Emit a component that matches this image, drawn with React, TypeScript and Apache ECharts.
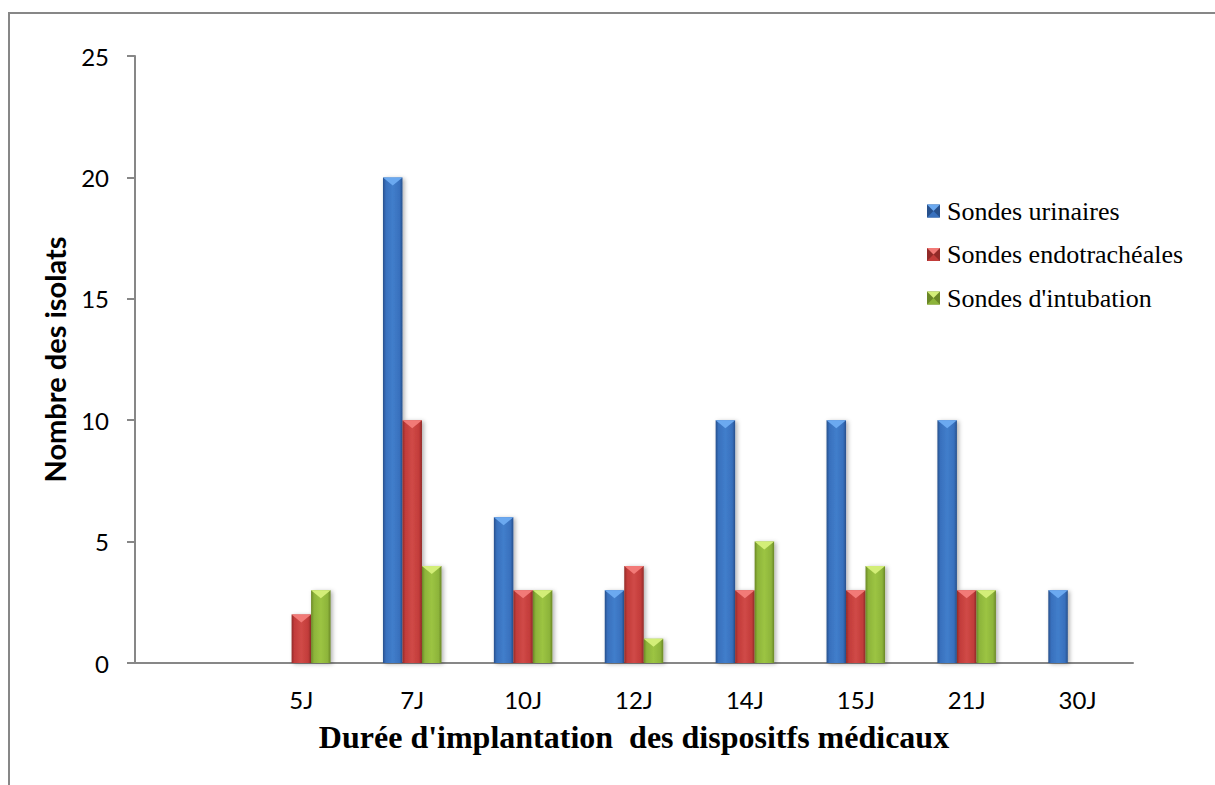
import React, { useEffect, useRef } from "react";
import * as echarts from "echarts";

// Implantation durations (first slot left blank on purpose)
const categories = ["", "5J", "7J", "10J", "12J", "14J", "15J", "21J", "30J"];
const urinaires = [0, 0, 20, 6, 3, 10, 10, 10, 3];
const endotracheales = [0, 2, 10, 3, 4, 3, 3, 3, 0];
const intubation = [0, 3, 4, 3, 1, 5, 4, 3, 0];
const seriesNames = ["Sondes urinaires", "Sondes endotrachéales", "Sondes d'intubation"];
const yMin = 0;
const yMax = 25;
const yStep = 5;

const xTitle = "Durée d'implantation  des dispositfs médicaux";
const yTitle = "Nombre des isolats";

// Bevelled look: dark edges, lighter body, light cap on top
const palettes = [
  { edge: "#27508c", body: "#3870bd", mid: "#417ecb", cap: "#6ba9f0" },
  { edge: "#922a28", body: "#c23c3a", mid: "#d04a47", cap: "#f27a77" },
  { edge: "#6a8726", body: "#8db43a", mid: "#9cc443", cap: "#d3ee78" },
];

const seriesValues = [urinaires, endotracheales, intubation];

const BAR_W = 19.5;
const AXIS_GREY = "#878787";
const SANS = "Lato";
const SERIF = "'Liberation Serif', 'Times New Roman', serif";

// Key block on the right
const KEY_LEFT = 927;
const KEY_TOP = 211;
const KEY_STEP = 43.5;
const KEY_BOX = 13;

function bodyGradient(p: { edge: string; body: string; mid: string }) {
  return new echarts.graphic.LinearGradient(0, 0, 1, 0, [
    { offset: 0, color: p.edge },
    { offset: 0.15, color: p.body },
    { offset: 0.5, color: p.mid },
    { offset: 0.85, color: p.body },
    { offset: 1, color: p.edge },
  ]);
}

function keyItem(i: number) {
  const p = palettes[i];
  const cy = KEY_TOP + i * KEY_STEP;
  const x0 = KEY_LEFT;
  const y0 = cy - KEY_BOX / 2;
  const s = KEY_BOX;
  return {
    type: "group",
    silent: true,
    children: [
      { type: "rect", shape: { x: x0, y: y0, width: s, height: s }, style: { fill: p.edge } },
      {
        type: "polygon",
        shape: { points: [[x0, y0], [x0 + s, y0], [x0 + s / 2, y0 + s / 2]] },
        style: { fill: p.cap },
      },
      {
        type: "polygon",
        shape: { points: [[x0, y0 + s], [x0 + s, y0 + s], [x0 + s / 2, y0 + s / 2]] },
        style: { fill: p.body },
      },
      {
        type: "text",
        x: x0 + s + 7,
        y: cy,
        style: {
          text: seriesNames[i],
          fontFamily: SERIF,
          fontSize: 26,
          fill: "#000",
          verticalAlign: "middle",
          align: "left",
        },
      },
    ],
  };
}

export default function App() {
  const ref = useRef<HTMLDivElement>(null);

  useEffect(() => {
    document.body.style.margin = "0";
    if (!ref.current) return;
    const chart = echarts.init(ref.current, undefined, { renderer: "svg" });

    const gap = (v: number) => (v === 0 ? "-" : v);

    const bars = seriesValues.map((vals, i) => ({
      type: "bar",
      name: seriesNames[i],
      data: vals.map(gap),
      barWidth: BAR_W,
      barGap: "0%",
      z: 2,
      itemStyle: {
        color: bodyGradient(palettes[i]),
        shadowBlur: 4,
        shadowOffsetX: 2,
        shadowOffsetY: 1,
        shadowColor: "rgba(0,0,0,0.3)",
      },
    }));

    const caps = seriesValues.map((vals, i) => ({
      type: "pictorialBar",
      name: seriesNames[i] + " cap",
      data: vals.map(gap),
      barWidth: BAR_W,
      barGap: "0%",
      symbol: "path://M0,0L20,0L10,8Z",
      symbolSize: [BAR_W, 8],
      symbolPosition: "end",
      z: 3,
      silent: true,
      itemStyle: { color: palettes[i].cap },
    }));

    chart.setOption({
      animation: false,
      graphic: [
        {
          type: "rect",
          silent: true,
          z: -10,
          shape: { x: 9, y: 13, width: 1400, height: 1000 },
          style: { fill: "none", stroke: AXIS_GREY, lineWidth: 2 },
        },
        ...seriesNames.map((_, i) => keyItem(i)),
      ],
      grid: { left: 135, right: 82, top: 56, bottom: 122 },
      xAxis: {
        type: "category",
        data: categories,
        name: xTitle,
        nameLocation: "middle",
        nameGap: 58,
        nameTextStyle: { fontFamily: SERIF, fontSize: 32, fontWeight: "bold", color: "#000" },
        axisLine: { lineStyle: { color: AXIS_GREY, width: 2 } },
        axisTick: { show: false },
        axisLabel: { fontFamily: SANS, fontSize: 24, color: "#000", margin: 24 },
        splitLine: { show: false },
      },
      yAxis: {
        type: "value",
        min: yMin,
        max: yMax,
        interval: yStep,
        name: yTitle,
        nameLocation: "middle",
        nameRotate: 90,
        nameGap: 66,
        nameTextStyle: { fontFamily: SANS, fontSize: 29, fontWeight: "bold", color: "#000" },
        axisLine: { show: true, lineStyle: { color: AXIS_GREY, width: 2 } },
        axisTick: { show: true, inside: false, length: 8, lineStyle: { color: AXIS_GREY, width: 2 } },
        axisLabel: { fontFamily: SANS, fontSize: 24, color: "#000", margin: 26 },
        splitLine: { show: false },
      },
      series: [...bars, ...caps],
    });

    return () => chart.dispose();
  }, []);

  return <div ref={ref} style={{ width: 1215, height: 785 }} />;
}
